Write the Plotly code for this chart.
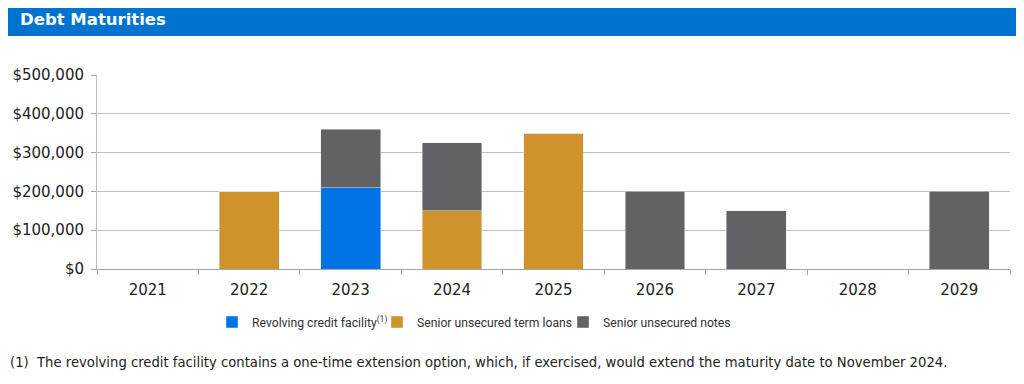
import plotly.graph_objects as go

years = ["2021", "2022", "2023", "2024", "2025", "2026", "2027", "2028", "2029"]
revolving = [0, 0, 210000, 0, 0, 0, 0, 0, 0]
term_loans = [0, 200000, 0, 150000, 350000, 0, 0, 0, 0]
notes = [0, 0, 150000, 175000, 0, 200000, 150000, 0, 200000]
y_ticks = [0, 100000, 200000, 300000, 400000, 500000]
y_labels = ["$0", "$100,000", "$200,000", "$300,000", "$400,000", "$500,000"]

# the page body has an 8px margin, so figure coords = screen coords - 8
OFF = 8
W, H = 1016, 376
L = 97 - OFF
T = 75 - OFF
PR = 1010 - OFF  # plot right edge
PB = 269 - OFF   # plot bottom edge
R = W - PR
B = H - PB
pw, ph = PR - L, PB - T

def px_x(x):
    return (x - OFF - L) / pw

def px_y(y):
    return (PB - (y - OFF)) / ph

legend_font = dict(family="Roboto, Noto Sans, sans-serif", size=12.2, color="#333333")

fig = go.Figure()
fig.add_bar(x=years, y=revolving, name="Revolving credit facility<sup>(1)</sup>", marker_color="#0073E6",
            legendwidth=120)
fig.add_bar(x=years, y=term_loans, name="Senior unsecured term loans", marker_color="#D0922B",
            legendwidth=141)
fig.add_bar(x=years, y=notes, name="Senior unsecured notes", marker_color="#616266")

fig.update_layout(
    width=W, height=H,
    barmode="stack", bargap=0.41,
    margin=dict(l=L, r=R, t=T, b=B, autoexpand=False),
    plot_bgcolor="white", paper_bgcolor="white",
    font=dict(family="DejaVu Sans, Verdana, sans-serif", size=15, color="#222222"),
    title=dict(text="<b>Debt Maturities</b>", x=(20 - OFF) / W, xanchor="left", xref="container",
               y=1 - (19 - OFF) / H, yanchor="middle", yref="container",
               font=dict(family="DejaVu Sans, Verdana, sans-serif", size=16.5, color="white")),
    showlegend=True,
    legend=dict(orientation="h", x=px_x(212), xanchor="left", y=px_y(322), yanchor="middle",
                font=legend_font, itemwidth=30, traceorder="normal"),
    shapes=[dict(type="rect", xref="paper", yref="paper",
                 x0=px_x(2), x1=px_x(1018), y0=px_y(36), y1=px_y(4),
                 fillcolor="#0073CF", line=dict(width=0), layer="below")],
    annotations=[dict(text="(1)  The revolving credit facility contains a one-time extension option, which, if exercised, would extend the maturity date to November 2024.",
                      xref="paper", yref="paper", x=px_x(8), y=px_y(362), xanchor="left", yanchor="middle",
                      showarrow=False, font=dict(family="DejaVu Sans, Verdana, sans-serif", size=13.2, color="#222222"))],
)
fig.update_xaxes(type="category", showline=True, linecolor="#A6A6A6", linewidth=1,
                 ticks="outside", tickson="boundaries", ticklen=5, tickcolor="#A6A6A6",
                 ticklabelstandoff=7, automargin=False,
                 showgrid=False, tickfont=dict(size=15, color="#222222"))
fig.update_yaxes(range=[0, 500000], tickvals=y_ticks, ticktext=y_labels,
                 showgrid=True, gridcolor="#BFBFBF", gridwidth=1,
                 showline=True, linecolor="#BFBFBF", ticks="outside", ticklen=5, tickcolor="#A6A6A6",
                 ticklabelstandoff=4, automargin=False,
                 zeroline=False, tickfont=dict(size=15, color="#222222"))

fig.write_html("out.html")
